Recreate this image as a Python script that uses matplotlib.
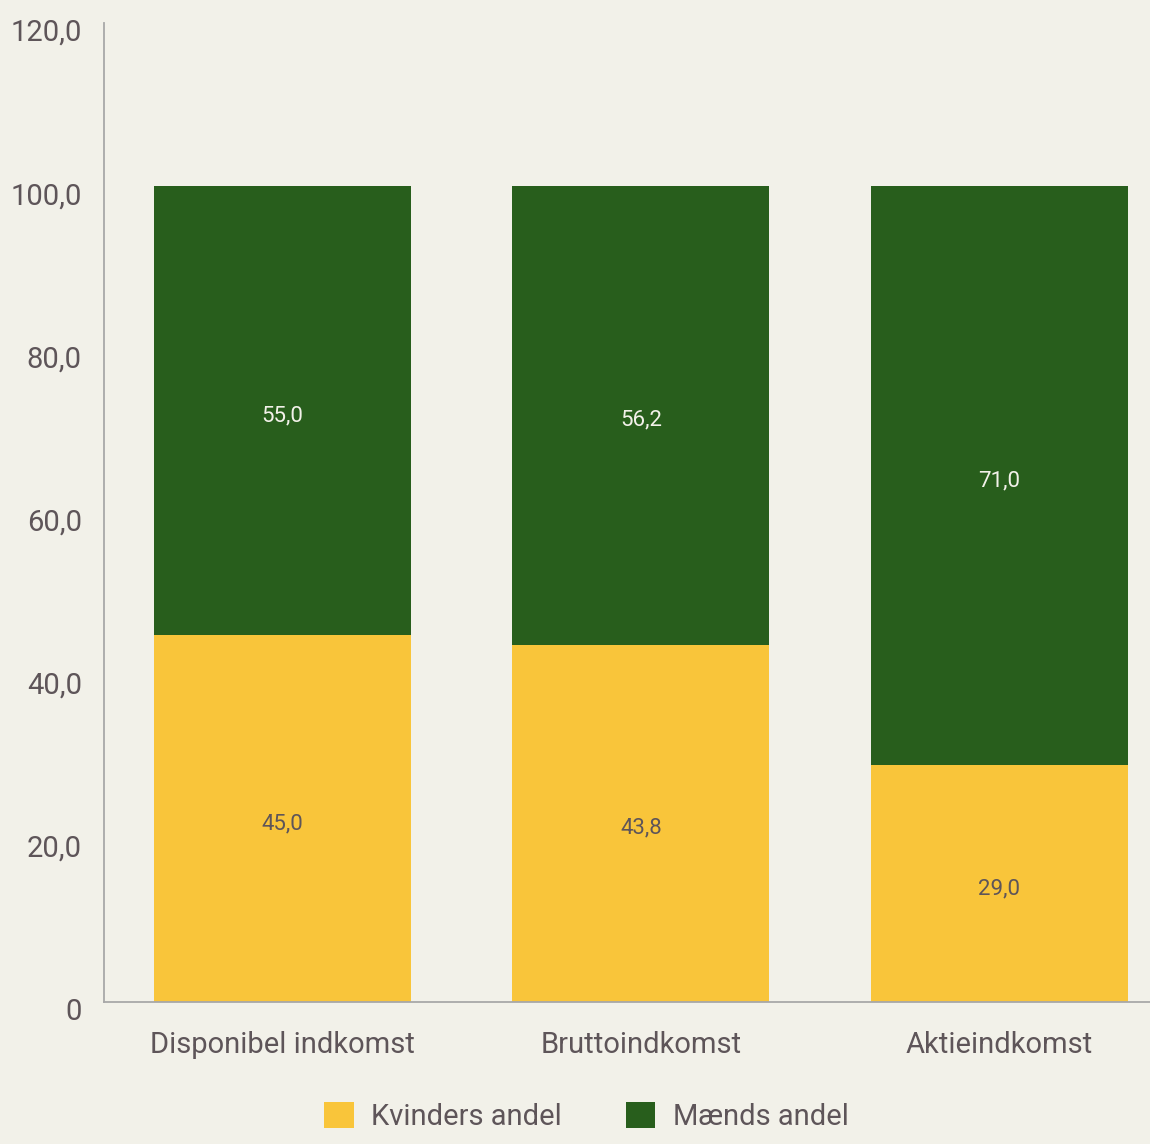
import numpy as np
import matplotlib.pyplot as plt
import matplotlib.transforms as mtransforms

# Data
kategorier = ['Disponibel indkomst', 'Bruttoindkomst', 'Aktieindkomst']
kvinder = [45.0, 43.8, 29.0]
maend = [55.0, 56.2, 71.0]
yticks = [0, 20, 40, 60, 80, 100, 120]
ytick_labels = ['0', '20,0', '40,0', '60,0', '80,0', '100,0', '120,0']

bg = '#F2F1E9'
gul = '#F9C53A'
groen = '#285E1C'
tekst = '#5E5559'

plt.rcParams['font.family'] = ['Roboto', 'DejaVu Sans']

fig = plt.figure(figsize=(11.5, 11.44), dpi=100, facecolor=bg)
ax = fig.add_axes([0.0904, 0.1241, 0.9096, 0.8558], facecolor=bg)

x = np.arange(len(kategorier))
b1 = ax.bar(x, kvinder, width=0.717, color=gul, label='Kvinders andel')
b2 = ax.bar(x, maend, width=0.717, bottom=kvinder, color=groen, label='Mænds andel')

# tal i søjlerne, lidt nedad som i originalen
ned = mtransforms.ScaledTranslation(0, -5 / 100, fig.dpi_scale_trans)
for i in range(len(x)):
    ax.text(x[i], kvinder[i] / 2, f'{kvinder[i]:.1f}'.replace('.', ','),
            ha='center', va='center', fontsize=16, color=tekst,
            transform=ax.transData + ned)
    ax.text(x[i], kvinder[i] + maend[i] / 2, f'{maend[i]:.1f}'.replace('.', ','),
            ha='center', va='center', fontsize=16, color=bg,
            transform=ax.transData + ned)

ax.set_xlim(-0.498, 2.42)
ax.set_ylim(0, 120)
ax.set_yticks(yticks)
ax.set_yticklabels(ytick_labels)
ax.set_xticks(x)
ax.set_xticklabels(kategorier)
ax.tick_params(axis='y', length=0, pad=16, labelsize=21, labelcolor=tekst)
ax.tick_params(axis='x', length=0, pad=21, labelsize=21, labelcolor=tekst)

# y-tal sidder lidt under stregen
flyt = mtransforms.ScaledTranslation(0, -7 / 100, fig.dpi_scale_trans)
for lbl in ax.get_yticklabels():
    lbl.set_transform(lbl.get_transform() + flyt)

for s in ['top', 'right']:
    ax.spines[s].set_visible(False)
ax.spines['left'].set_color('#A8A8A8')
ax.spines['bottom'].set_color('#A8A8A8')
ax.spines['left'].set_linewidth(1.3)
ax.spines['bottom'].set_linewidth(1.3)

fig.legend(handles=[b1, b2], loc='upper center', bbox_to_anchor=(0.51, 0.06),
           ncol=2, frameon=False, fontsize=21, labelcolor=tekst,
           handlelength=1.0, handleheight=1.0, columnspacing=2.2, handletextpad=0.6)

fig.savefig('out.png', dpi=100, facecolor=bg)
